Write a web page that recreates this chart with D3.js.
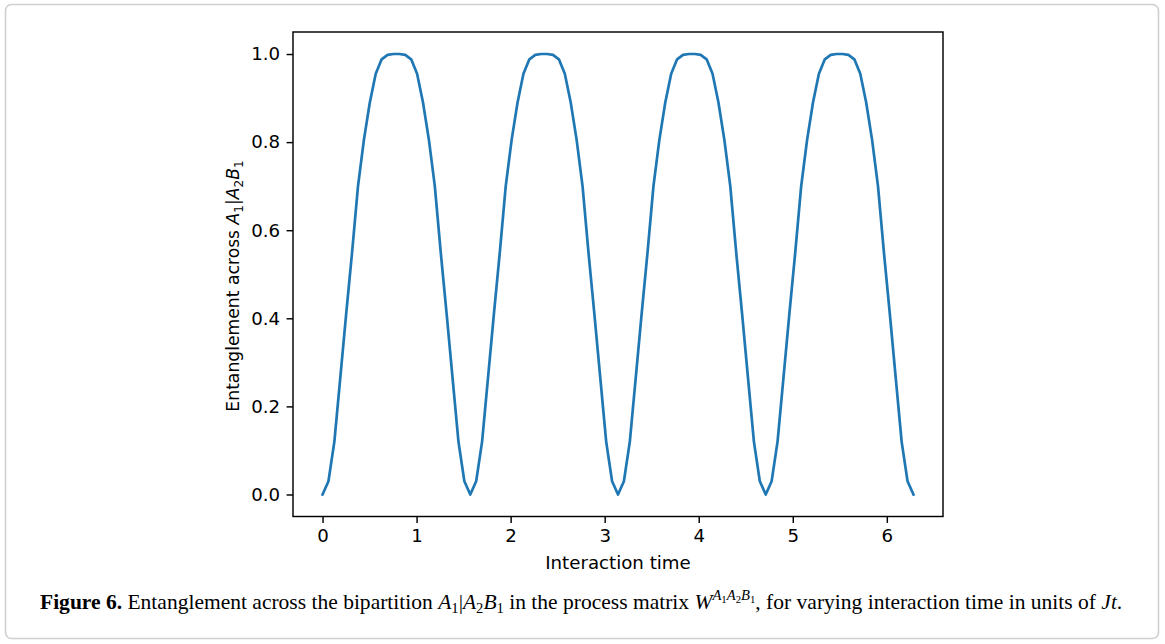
<!DOCTYPE html>
<html>
<head>
    <meta charset="utf-8">
    <title>Entanglement across A1|A2B1</title>
    <script src="https://d3js.org/d3.v7.min.js"></script>
    <style>
        body { margin: 0; background: #fff; }
        svg { display: block; }
    </style>
</head>
<body>
    <div id="chart"></div>

    <script>
        // Interaction time samples (x) and entanglement (y)
        const times = [
            0, 0.0628, 0.1257, 0.1885, 0.2513, 0.3142, 0.3770, 0.4398, 0.5027, 0.5655,
            0.6283, 0.6912, 0.7540, 0.8168, 0.8796, 0.9425, 1.0053, 1.0681, 1.1310, 1.1938,
            1.2566, 1.3195, 1.3823, 1.4451, 1.5080, 1.5708, 1.6336, 1.6965, 1.7593, 1.8221,
            1.8850, 1.9478, 2.0106, 2.0735, 2.1363, 2.1991, 2.2619, 2.3248, 2.3876, 2.4504,
            2.5133, 2.5761, 2.6389, 2.7018, 2.7646, 2.8274, 2.8903, 2.9531, 3.0159, 3.0788,
            3.1416, 3.2044, 3.2673, 3.3301, 3.3929, 3.4558, 3.5186, 3.5814, 3.6442, 3.7071,
            3.7699, 3.8327, 3.8956, 3.9584, 4.0212, 4.0841, 4.1469, 4.2097, 4.2726, 4.3354,
            4.3982, 4.4611, 4.5239, 4.5867, 4.6496, 4.7124, 4.7752, 4.8381, 4.9009, 4.9637,
            5.0265, 5.0894, 5.1522, 5.2150, 5.2779, 5.3407, 5.4035, 5.4664, 5.5292, 5.5920,
            5.6549, 5.7177, 5.7805, 5.8434, 5.9062, 5.9690, 6.0319, 6.0947, 6.1575, 6.2204,
            6.2832
        ];

        const entanglement = [
            0, 0.03, 0.12, 0.265, 0.41, 0.55, 0.70, 0.805, 0.89, 0.955,
            0.988, 0.998, 1.0, 1.0, 0.998, 0.988, 0.955, 0.89, 0.805, 0.70,
            0.55, 0.41, 0.265, 0.12, 0.03,
            0, 0.03, 0.12, 0.265, 0.41, 0.55, 0.70, 0.805, 0.89, 0.955,
            0.988, 0.998, 1.0, 1.0, 0.998, 0.988, 0.955, 0.89, 0.805, 0.70,
            0.55, 0.41, 0.265, 0.12, 0.03,
            0, 0.03, 0.12, 0.265, 0.41, 0.55, 0.70, 0.805, 0.89, 0.955,
            0.988, 0.998, 1.0, 1.0, 0.998, 0.988, 0.955, 0.89, 0.805, 0.70,
            0.55, 0.41, 0.265, 0.12, 0.03,
            0, 0.03, 0.12, 0.265, 0.41, 0.55, 0.70, 0.805, 0.89, 0.955,
            0.988, 0.998, 1.0, 1.0, 0.998, 0.988, 0.955, 0.89, 0.805, 0.70,
            0.55, 0.41, 0.265, 0.12, 0.03,
            0
        ];

        const xTicks = [0, 1, 2, 3, 4, 5, 6];
        const yTicks = [0.0, 0.2, 0.4, 0.6, 0.8, 1.0];

        // Configuration settings
        const config = {
            width: 1165,
            height: 644,
            frame: { left: 293, right: 943, top: 32, bottom: 516.5 },
            lineColor: "#1f77b4",
            axisFont: "DejaVu Sans, sans-serif",
            axisFontSize: 18.2,
            captionFont: "Liberation Serif, Times New Roman, serif"
        };

        const svg = d3.select("#chart")
            .append("svg")
            .attr("width", config.width)
            .attr("height", config.height);

        // outer figure border
        svg.append("rect")
            .attr("x", 5.5)
            .attr("y", 4.5)
            .attr("width", 1153)
            .attr("height", 634)
            .attr("rx", 6)
            .attr("fill", "none")
            .attr("stroke", "#cfcfcf")
            .attr("stroke-width", 1.6);

        const f = config.frame;

        // matplotlib style 5% margins around the data
        const xExt = d3.extent(times);
        const xPad = (xExt[1] - xExt[0]) * 0.05;
        const xScale = d3.scaleLinear()
            .domain([xExt[0] - xPad, xExt[1] + xPad])
            .range([f.left, f.right]);

        const yExt = d3.extent(entanglement);
        const yPad = (yExt[1] - yExt[0]) * 0.05;
        const yScale = d3.scaleLinear()
            .domain([yExt[0] - yPad, yExt[1] + yPad])
            .range([f.bottom, f.top]);

        // data line
        const lineGenerator = d3.line()
            .x((d, i) => xScale(times[i]))
            .y(d => yScale(d));

        svg.append("path")
            .datum(entanglement)
            .attr("d", lineGenerator)
            .attr("fill", "none")
            .attr("stroke", config.lineColor)
            .attr("stroke-width", 2.7)
            .attr("stroke-linejoin", "round")
            .attr("stroke-linecap", "square");

        // axes
        const xAxis = svg.append("g")
            .attr("transform", `translate(0,${f.bottom})`)
            .call(d3.axisBottom(xScale)
                .tickValues(xTicks)
                .tickFormat(d3.format("d"))
                .tickSize(6.4)
                .tickPadding(6.4));

        const yAxis = svg.append("g")
            .attr("transform", `translate(${f.left},0)`)
            .call(d3.axisLeft(yScale)
                .tickValues(yTicks)
                .tickFormat(d3.format(".1f"))
                .tickSize(6.4)
                .tickPadding(6.4));

        [xAxis, yAxis].forEach(ax => {
            ax.select(".domain").remove();
            ax.selectAll("line").attr("stroke", "#000").attr("stroke-width", 1.45);
            ax.selectAll("text")
                .attr("fill", "#000")
                .style("font-family", config.axisFont)
                .style("font-size", config.axisFontSize + "px");
        });

        // frame (spines)
        svg.append("rect")
            .attr("x", f.left)
            .attr("y", f.top)
            .attr("width", f.right - f.left)
            .attr("height", f.bottom - f.top)
            .attr("fill", "none")
            .attr("stroke", "#000")
            .attr("stroke-width", 1.45);

        // x label
        svg.append("text")
            .attr("x", (f.left + f.right) / 2)
            .attr("y", 569)
            .attr("text-anchor", "middle")
            .style("font-family", config.axisFont)
            .style("font-size", config.axisFontSize + "px")
            .text("Interaction time");

        // helper: write rich text segments [text, {italic, bold, size, shift}]
        function richText(sel, segments, base) {
            let offset = 0;
            segments.forEach(s => {
                const size = base * (s.size || 1);
                const shift = (s.shift || 0) * base;
                const t = sel.append("tspan")
                    .attr("dy", shift - offset)
                    .style("font-size", size + "px")
                    .text(s.text);
                if (s.italic) t.style("font-style", "italic");
                if (s.bold) t.style("font-weight", "bold");
                offset = shift;
            });
        }

        // y label (mathtext style)
        const yLabelSegments = [
            { text: "Entanglement across " },
            { text: "A", italic: true },
            { text: "1", size: 0.7, shift: 0.22 },
            { text: "|" },
            { text: "A", italic: true },
            { text: "2", size: 0.7, shift: 0.22 },
            { text: "B", italic: true },
            { text: "1", size: 0.7, shift: 0.22 }
        ];
        const yLabel = svg.append("text")
            .attr("transform", `translate(239,286) rotate(-90)`)
            .attr("text-anchor", "middle")
            .style("font-family", config.axisFont);
        richText(yLabel, yLabelSegments, 17.2);

        // caption
        const captionSegments = [
            { text: "Figure 6.", bold: true },
            { text: " Entanglement across the bipartition " },
            { text: "A", italic: true },
            { text: "1", size: 0.68, shift: 0.2 },
            { text: "|" },
            { text: "A", italic: true },
            { text: "2", size: 0.68, shift: 0.2 },
            { text: "B", italic: true },
            { text: "1", size: 0.68, shift: 0.2 },
            { text: " in the process matrix " },
            { text: "W", italic: true },
            { text: "A", italic: true, size: 0.68, shift: -0.42 },
            { text: "1", size: 0.5, shift: -0.3 },
            { text: "A", italic: true, size: 0.68, shift: -0.42 },
            { text: "2", size: 0.5, shift: -0.3 },
            { text: "B", italic: true, size: 0.68, shift: -0.42 },
            { text: "1", size: 0.5, shift: -0.3 },
            { text: ", for varying interaction time in units of " },
            { text: "Jt", italic: true },
            { text: "." }
        ];
        const captionLeft = 40, captionRight = 1123;
        function drawCaption(base) {
            svg.selectAll(".caption").remove();
            const cap = svg.append("text")
                .attr("class", "caption")
                .attr("x", captionLeft)
                .attr("y", 609)
                .attr("fill", "#000")
                .style("font-family", config.captionFont);
            richText(cap, captionSegments, base);
            return cap;
        }
        let cap = drawCaption(18);
        const w = cap.node().getBBox().width;
        drawCaption(18 * (captionRight - captionLeft) / w);
    </script>
</body>
</html>
